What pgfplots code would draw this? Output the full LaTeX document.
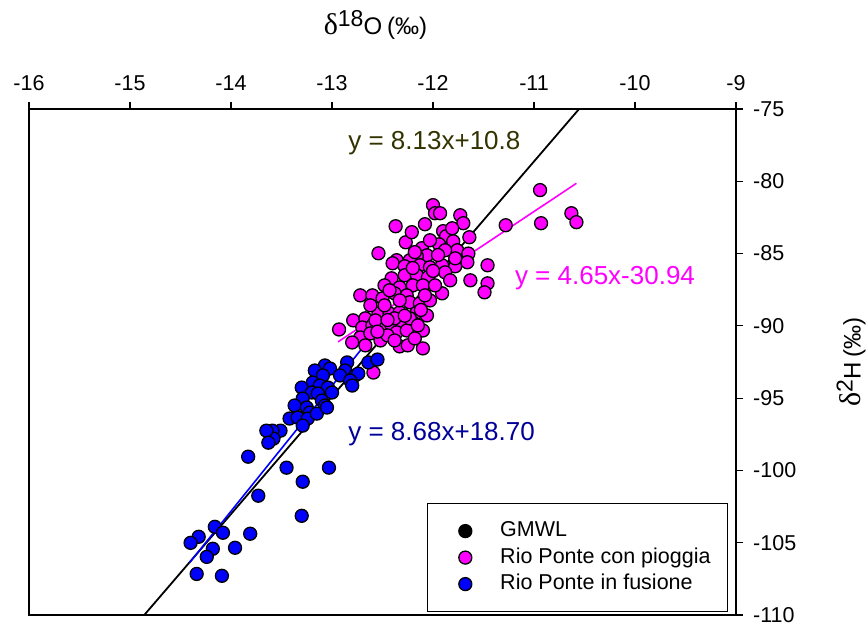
\documentclass[border=0pt]{standalone}
\usepackage{pgfplots}
\pgfplotsset{compat=1.18}
\usepackage{pgfplotstable}
\usepackage{fontspec}
\setmainfont{Liberation Sans}
\newfontfamily\serif{Liberation Serif}
\definecolor{eqolive}{RGB}{51,51,0}
\definecolor{eqnavy}{RGB}{0,0,153}
\definecolor{mag}{RGB}{255,0,255}
\definecolor{blu}{RGB}{0,0,255}

\pgfplotstableread{
x y
-12.00 -81.65
-11.98 -82.21
-11.93 -82.21
-11.73 -82.35
-11.70 -82.90
-12.37 -83.11
-12.08 -82.97
-11.90 -83.45
-11.87 -83.80
-11.80 -84.15
-11.64 -83.87
-12.27 -84.22
-11.94 -84.36
-12.11 -84.63
-11.76 -84.77
-11.65 -85.00
-12.54 -84.98
-12.06 -85.12
-12.16 -85.19
-12.36 -85.46
-12.23 -85.46
-10.94 -80.61
-11.28 -83.04
-10.93 -82.90
-10.63 -82.21
-10.58 -82.83
-11.46 -85.81
-11.46 -87.06
-11.49 -87.68
-12.40 -85.67
-12.28 -85.88
-12.13 -85.81
-12.03 -85.95
-11.91 -85.81
-11.78 -85.88
-11.66 -85.60
-12.41 -86.71
-12.28 -86.50
-12.16 -86.50
-12.05 -86.64
-11.88 -86.30
-11.63 -86.85
-12.33 -87.34
-12.20 -87.20
-12.10 -87.20
-12.72 -87.89
-12.60 -87.89
-12.50 -88.10
-12.38 -87.75
-12.26 -87.89
-11.91 -87.75
-12.23 -88.37
-12.13 -88.44
-12.79 -89.62
-12.67 -89.48
-12.54 -89.14
-12.43 -89.14
-12.33 -89.07
-12.16 -89.07
-12.06 -89.28
-12.70 -90.11
-12.60 -89.97
-12.50 -90.11
-12.41 -89.97
-12.30 -89.83
-12.20 -89.76
-12.10 -90.32
-12.93 -90.25
-12.72 -90.80
-12.62 -90.52
-12.36 -90.45
-12.26 -90.32
-12.80 -91.15
-12.52 -91.01
-12.33 -91.42
-12.25 -91.35
-12.10 -91.56
-12.59 -93.23
-12.48 -88.58
-12.38 -89.48
-12.57 -89.62
-12.23 -89.48
-12.45 -90.66
-12.15 -89.97
-12.03 -88.24
-11.98 -87.20
-11.83 -86.85
-11.78 -85.33
-11.88 -84.77
-12.48 -87.20
-12.62 -88.58
-12.03 -84.08
-12.21 -83.52
-11.81 -83.25
-12.33 -88.24
-12.43 -87.54
-12.08 -87.89
-12.18 -90.87
-12.38 -91.01
-12.67 -91.35
-12.45 -89.60
-12.28 -89.30
-12.12 -88.90
-12.55 -90.40
-12.20 -86.00
-12.00 -86.20
-11.95 -85.10
-12.18 -84.90
}\pioggia

\pgfplotstableread{
x y
-13.07 -92.74
-13.02 -92.95
-12.85 -92.53
-12.87 -93.09
-12.92 -93.43
-12.77 -93.43
-12.74 -93.30
-12.64 -92.53
-12.55 -92.33
-12.82 -93.78
-12.80 -94.13
-13.17 -93.09
-13.09 -93.43
-13.19 -93.92
-13.12 -94.13
-13.30 -94.27
-13.04 -94.27
-13.20 -94.61
-13.14 -94.68
-13.00 -94.61
-13.10 -95.17
-13.07 -95.51
-13.29 -95.03
-13.37 -95.51
-13.25 -95.65
-13.22 -96.00
-13.42 -96.41
-13.34 -96.34
-13.24 -96.41
-13.15 -96.07
-13.05 -95.65
-13.29 -96.90
-13.51 -97.25
-13.59 -97.25
-13.58 -97.80
-13.65 -97.25
-13.63 -98.08
-13.83 -99.05
-13.73 -101.75
-14.16 -103.90
-14.08 -104.31
-13.81 -104.38
-14.32 -104.59
-14.40 -105.01
-14.18 -105.42
-14.24 -105.98
-13.96 -105.35
-14.34 -107.16
-14.09 -107.29
-13.45 -99.81
-13.03 -99.81
-13.29 -100.78
-13.30 -103.14
}\fusione

\begin{document}
\begin{tikzpicture}
\begin{axis}[name=ax, scale only axis, width=707pt, height=506pt,
  xmin=-16, xmax=-9, ymin=-110, ymax=-75,
  xtick={-16,-15,...,-9}, ytick={-110,-105,...,-75},
  xtick pos=right, ytick pos=right, xticklabel pos=right, yticklabel pos=right,
  tick align=outside, major tick length=7pt,
  axis line style={line width=1.3pt},
  every tick/.style={line width=1.2pt, black},
  /pgf/number format/assume math mode=true,
  ticklabel style={font=\fontsize{21.5}{24}\selectfont, inner sep=2pt},
  xticklabel style={yshift=9pt},
  yticklabel style={anchor=west, xshift=8pt},
  legend style={at={(1,0)}, anchor=south east, xshift=-8pt, yshift=3pt,
    draw=black, line width=1.3pt, inner xsep=14pt, inner ysep=14pt,
    font=\fontsize{21.5}{26}\selectfont,
    nodes={inner sep=2.75pt, text height=16pt, text depth=5pt}, row sep=0pt},
  legend cell align=left,
  legend image code/.code={\path (0pt,0pt) (54.75pt,0pt); \draw[#1] plot coordinates {(23.25pt,0pt)};},
]
\addplot[only marks, mark=*, mark size=6.5pt, mark options={draw=black, fill=mag, line width=1.3pt}, forget plot] table[x=x,y=y] {\pioggia};
\addplot[only marks, mark=*, mark size=6.5pt, mark options={draw=black, fill=blu, line width=1.3pt}, forget plot] table[x=x,y=y] {\fusione};
\addplot[black, line width=1.8pt, forget plot] coordinates {(-14.86,-110.01) (-10.55,-74.97)};
\addplot[mag, line width=1.6pt, forget plot] coordinates {(-12.94,-91.11) (-10.58,-80.14)};
\addplot[blu, line width=1.6pt, forget plot] coordinates {(-14.41,-106.38) (-12.54,-90.15)};

\addlegendimage{only marks, mark=*, mark size=6.5pt, mark options={draw=black, fill=black, line width=1.3pt}}
\addlegendentry{GMWL}
\addlegendimage{only marks, mark=*, mark size=6.5pt, mark options={draw=black, fill=mag, line width=1.3pt}}
\addlegendentry{Rio Ponte con pioggia}
\addlegendimage{only marks, mark=*, mark size=6.5pt, mark options={draw=black, fill=blu, line width=1.3pt}}
\addlegendentry{Rio Ponte in fusione}

\node[anchor=west, inner sep=0pt, text=eqolive, font=\fontsize{26}{28}\selectfont] at (axis cs:-12.84,-77.36) {y = 8.13x+10.8};
\node[anchor=west, inner sep=0pt, text=mag, font=\fontsize{26}{28}\selectfont] at (axis cs:-11.19,-86.71) {y = 4.65x-30.94};
\node[anchor=west, inner sep=0pt, text=eqnavy, font=\fontsize{26}{28}\selectfont] at (axis cs:-12.84,-97.52) {y = 8.68x+18.70};
\end{axis}
\node[anchor=base, inner sep=0pt] at ([xshift=-7pt,yshift=74pt]ax.north) {{\serif\fontsize{30}{30}\selectfont δ}\raisebox{8pt}{\fontsize{23}{23}\selectfont 18}{\fontsize{24}{24}\selectfont O}\hspace{5pt}{\fontsize{24}{24}\selectfont (‰)}};
\node[rotate=90, anchor=center, inner sep=0pt] at ([xshift=115pt]ax.east) {{\serif\fontsize{30}{30}\selectfont δ}\raisebox{8pt}{\fontsize{23}{23}\selectfont 2}{\fontsize{24}{24}\selectfont H}\hspace{5pt}{\fontsize{24}{24}\selectfont (‰)}};
\path ([shift={(-29pt,-13pt)}]ax.south west) rectangle ([shift={(130pt,109pt)}]ax.north east);
\end{tikzpicture}
\end{document}
